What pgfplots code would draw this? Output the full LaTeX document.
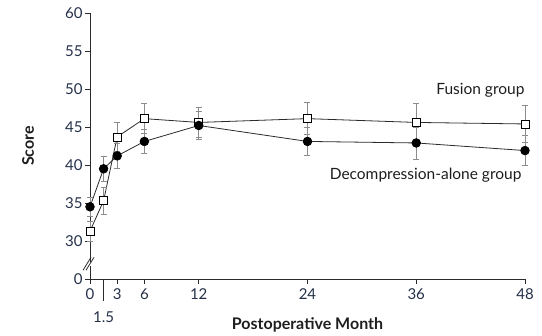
\documentclass[border=0pt]{standalone}
\usepackage{pgfplots}
\pgfplotsset{compat=1.18}
\usepackage{fontspec}
\setmainfont{Lato}
\definecolor{ln}{HTML}{2B2B2B}
\definecolor{eb}{HTML}{8C8C8C}
\definecolor{txt}{HTML}{1E1E1E}
\definecolor{tk}{HTML}{243049}
\begin{document}
\begin{tikzpicture}
\begin{axis}[
  scale only axis, width=435pt, height=266pt,
  xmin=0, xmax=48, ymin=25, ymax=60,
  axis x line*=bottom, axis y line*=left,
  axis line style={ln, line width=0.8pt},
  every tick/.style={ln, line width=0.8pt},
  tick align=outside, major tick length=5pt,
  xtick={0,3,6,12,24,36,48},
  extra x ticks={1.5},
  extra x tick style={major tick length=22pt, tick label style={yshift=-6pt}},
  ytick={25,30,35,40,45,50,55,60},
  yticklabels={0,30,35,40,45,50,55,60},
  /pgf/number format/assume math mode=true,
  tick label style={font=\fontsize{15}{17}\selectfont, text=tk},
  xticklabel style={yshift=-1pt},
  yticklabel style={xshift=1pt},
  clip=false,
]
\addplot[ln, line width=0.8pt, mark=square*, mark size=4pt,
  mark options={fill=white, draw=black, line width=0.7pt},
  error bars/.cd, y dir=both, y explicit,
  error bar style={eb, line width=0.8pt},
  error mark options={eb, rotate=90, mark size=3pt, line width=0.8pt}]
  table[x=x, y=y, y error=e] {
  x    y     e
  0    31.3  1.3
  1.5  35.3  1.8
  3    43.7  1.9
  6    46.1  2.0
  12   45.6  2.0
  24   46.1  2.1
  36   45.6  2.5
  48   45.4  2.4
  };
\addplot[ln, line width=0.8pt, mark=*, mark size=4.3pt,
  mark options={fill=black, draw=black},
  error bars/.cd, y dir=both, y explicit,
  error bar style={eb, line width=0.8pt},
  error mark options={eb, rotate=90, mark size=3pt, line width=0.8pt}]
  table[x=x, y=y, y error=e] {
  x    y     e
  0    34.5  1.2
  1.5  39.5  1.6
  3    41.2  1.7
  6    43.1  1.6
  12   45.2  1.8
  24   43.1  1.9
  36   42.9  2.1
  48   41.9  2.0
  };
\coordinate (o) at (rel axis cs:0,0);
% axis break
\fill[white] ([xshift=-2pt,yshift=-2pt]axis cs:0,27.0) rectangle ([xshift=2pt,yshift=2pt]axis cs:0,27.0);
\draw[ln, line width=0.8pt] ([xshift=-7pt,yshift=-6.5pt]axis cs:0,27.0) -- ([xshift=1pt,yshift=6.5pt]axis cs:0,27.0);
\draw[ln, line width=0.8pt] ([xshift=-4pt,yshift=-6.5pt]axis cs:0,27.0) -- ([xshift=4pt,yshift=6.5pt]axis cs:0,27.0);
\node[anchor=east, text=txt, font=\fontsize{15.5}{18}\selectfont] at ([xshift=3pt]axis cs:48,49.85) {Fusion group};
\node[anchor=east, text=txt, font=\fontsize{15.5}{18}\selectfont] at ([xshift=0pt]axis cs:48,38.6) {Decompression-alone group};
\node[rotate=90, text=txt, font=\bfseries\fontsize{16}{18}\selectfont] at ([xshift=-62pt]rel axis cs:0,0.5) {Score};
\node[text=txt, font=\bfseries\fontsize{16}{18}\selectfont] at ([yshift=-46pt]rel axis cs:0.5,0) {Postoperative Month};
\end{axis}
\useasboundingbox (o) ++(-90pt,-56pt) rectangle ++(542pt,335pt);
\end{tikzpicture}
\end{document}
